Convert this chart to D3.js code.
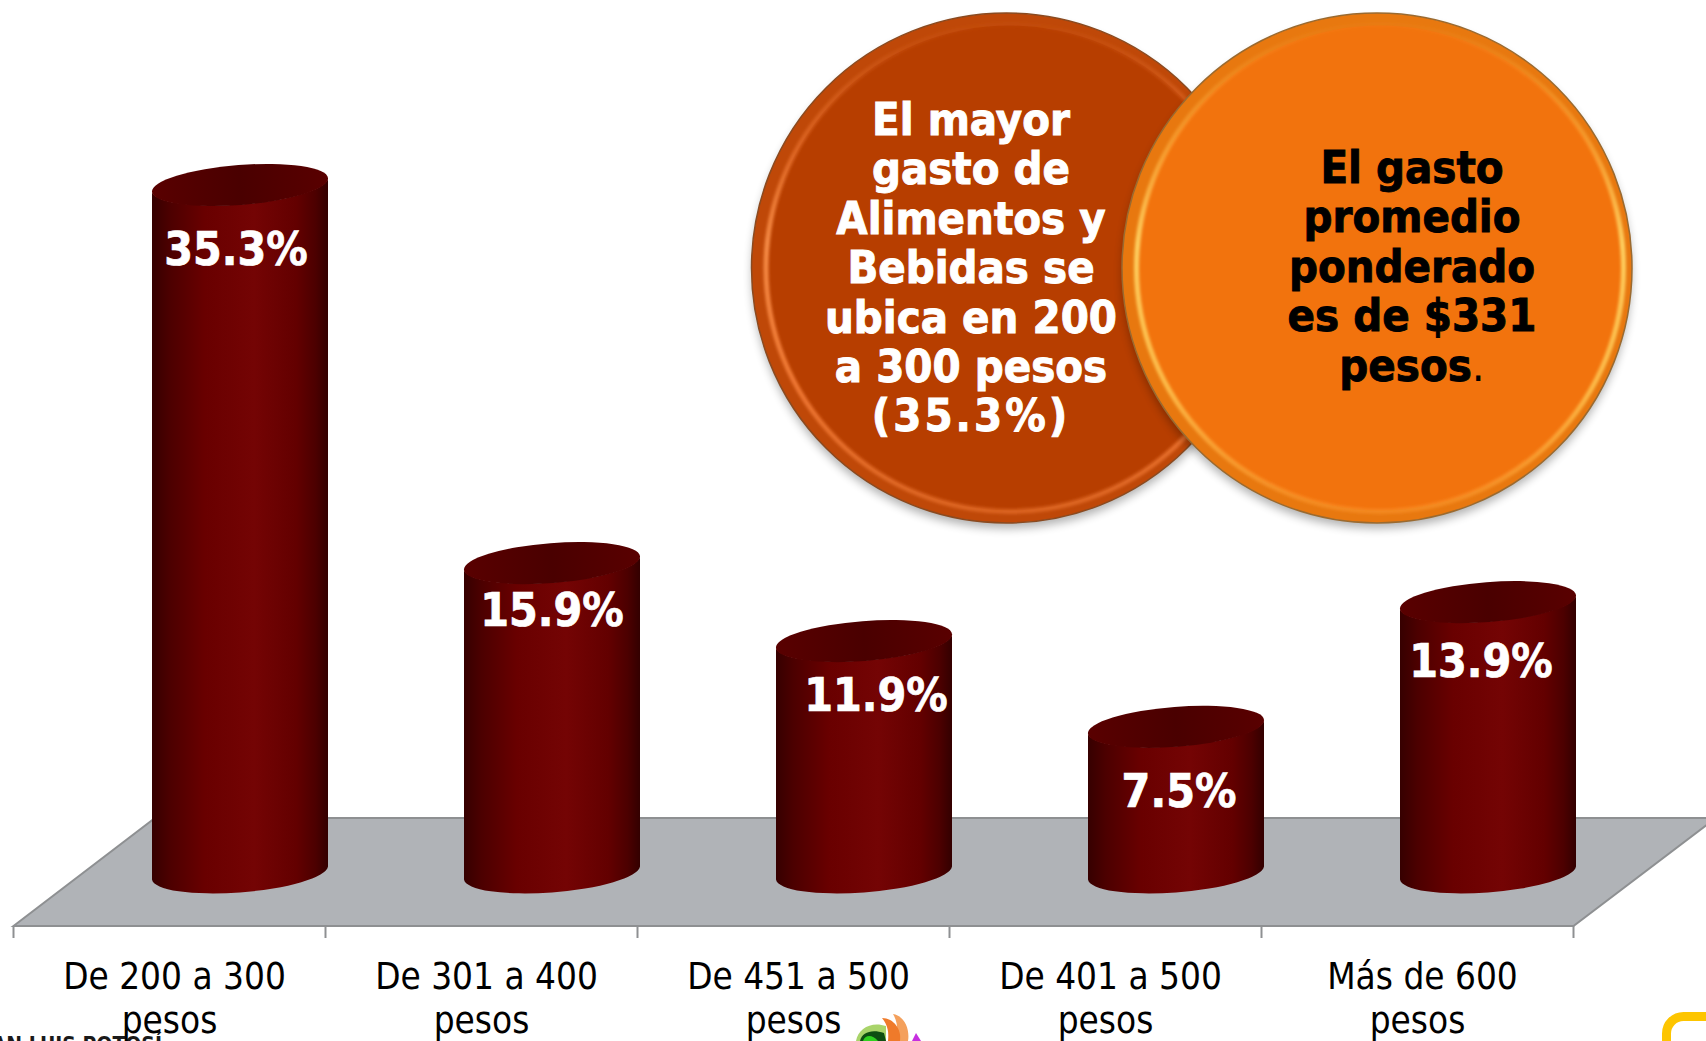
<!DOCTYPE html>
<html>
<head>
<meta charset="utf-8">
<script src="https://cdnjs.cloudflare.com/ajax/libs/d3/7.8.5/d3.min.js"></script>
<style>
  html, body { margin: 0; padding: 0; background: #fff; overflow: hidden; }
  svg { display: block; }
  text { font-family: "DejaVu Sans Condensed", "DejaVu Sans", sans-serif; }
</style>
</head>
<body>
<svg id="chart" width="1706" height="1041"></svg>
<script>
// data
const categories = ['De 200 a 300|pesos', 'De 301 a 400|pesos', 'De 451 a 500|pesos', 'De 401 a 500|pesos', 'Más de 600|pesos'];
const shares = [35.3, 15.9, 11.9, 7.5, 13.9];
const leftNote = ['El mayor', 'gasto de', 'Alimentos y', 'Bebidas se', 'ubica en 200', 'a 300 pesos', '(35.3%)'];
const rightNote = ['El gasto', 'promedio', 'ponderado', 'es de $331', 'pesos'];
const footerText = 'SAN LUIS POTOSÍ';

// hand-placed data labels in the slide, relative to the top of each cylinder
const labelNudgeX = [-4, 0, 12, 3, -7];
const labelNudgeY = [80, 63, 70, 80, 75];

const svg = d3.select('#chart');
const defs = svg.append('defs');

const x = d3.scaleBand().domain(categories).range([13.5, 1573.5]);
const y = d3.scaleLinear().domain([0, 40]).range([873, 93.4]);

const depthX = 70.5;   // 3d offset of the cylinders from the axis slot
const barRx = 88;
const ellA = 88.3, ellB = 20, ellTilt = -4.45;

function gradient(id, stops, attrs) {
    const g = defs.append('linearGradient').attr('id', id);
    Object.entries(attrs || {}).forEach(([k, v]) => g.attr(k, v));
    stops.forEach(s => g.append('stop').attr('offset', s[0]).attr('stop-color', s[1]).attr('stop-opacity', s[2] === undefined ? 1 : s[2]));
}

gradient('barSide', [[0, '#360000'], [0.1, '#4c0000'], [0.3, '#690000'], [0.58, '#740404'], [0.82, '#630000'], [0.93, '#4c0000'], [1, '#330000']]);
gradient('barTop', [[0, '#590000'], [0.5, '#4a0000'], [1, '#590000']]);
// bevel highlight is strong on the sides of the discs and fades at the top
gradient('leftShine', [[0, '#f27a35', 0.05], [0.25, '#f27a35', 0.55], [0.45, '#f58a45', 1], [0.75, '#f27a35', 0.9], [1, '#f27a35', 0.55]],
    { x1: 0, y1: 0, x2: 0, y2: 1 });
gradient('rightShine', [[0, '#ffb040', 0.05], [0.25, '#ffb040', 0.6], [0.45, '#ffd060', 1], [0.75, '#ffc04d', 0.9], [1, '#ff9a30', 0.5]],
    { x1: 0, y1: 0, x2: 0, y2: 1 });

const soft = (id, dev) => defs.append('filter').attr('id', id)
    .attr('x', '-10%').attr('y', '-10%').attr('width', '120%').attr('height', '120%')
    .append('feGaussianBlur').attr('stdDeviation', dev);
soft('soft', 5);
soft('glow', 1.6);

// floor
const floorY0 = 926, floorY1 = 818;
const floor = d3.path();
floor.moveTo(13.5, floorY0);
floor.lineTo(155, floorY1);
floor.lineTo(1716, floorY1);
floor.lineTo(1573.5, floorY0);
floor.closePath();
svg.append('path').attr('d', floor.toString())
    .attr('fill', '#b0b3b7').attr('stroke', '#8e9092').attr('stroke-width', 2);

// bits of the slide footer that stick into the picture
svg.append('text').attr('x', 162).attr('y', 1052).attr('text-anchor', 'end')
    .attr('font-size', 21).attr('font-weight', 700).attr('fill', '#1a1a1a').text(footerText);

svg.append('rect').attr('x', 1666.5).attr('y', 1016.5).attr('width', 90).attr('height', 90).attr('rx', 17)
    .attr('fill', 'none').attr('stroke', '#fdc500').attr('stroke-width', 9);

const logo = svg.append('g');
logo.append('path').attr('d', 'M856,1041 C858,1028 872,1021 886,1026 L886,1041 Z').attr('fill', '#a9d46a');
logo.append('path').attr('d', 'M860,1041 C862,1032 872,1029 884,1033 L886,1041 Z').attr('fill', '#0e4f12');
logo.append('path').attr('d', 'M863,1041 C865,1035 872,1034 878,1041 Z').attr('fill', '#2fd11f');
logo.append('path').attr('d', 'M893,1014 C905,1016 910,1030 908,1041 L896,1041 C898,1032 898,1022 893,1014 Z').attr('fill', '#f4a05c');
logo.append('path').attr('d', 'M882,1018 C894,1018 902,1030 900,1041 L888,1041 C889,1033 888,1025 882,1018 Z').attr('fill', '#ef7a2a');
logo.append('path').attr('d', 'M916,1033 L921,1041 L912,1041 Z').attr('fill', '#c62fe0');

// category axis
const axis = svg.append('g');
const tickXs = categories.map(c => x(c)).concat([x.range()[1]]);
axis.selectAll('line').data(tickXs).join('line')
    .attr('x1', d => d).attr('x2', d => d)
    .attr('y1', floorY0).attr('y2', floorY0 + 12)
    .attr('stroke', '#8e9092').attr('stroke-width', 2);

const labels = axis.selectAll('g.cat').data(categories).join('g').attr('class', 'cat');
labels.append('text')
    .attr('x', d => x(d) + x.bandwidth() / 2 + 5)
    .attr('y', 989).attr('text-anchor', 'middle')
    .attr('font-size', 36.6).attr('fill', '#000')
    .text(d => d.split('|')[0]);
labels.append('text')
    .attr('x', d => x(d) + x.bandwidth() / 2)
    .attr('y', 1033).attr('text-anchor', 'middle')
    .attr('font-size', 36.6).attr('fill', '#000')
    .text(d => d.split('|')[1]);

// cylinders
function cylinderSide(cx, topY) {
    const dy = 6.5;
    return `M${cx - barRx},${topY + dy} L${cx - barRx},${y(0) + dy} `
        + `A${ellA},${ellB} ${ellTilt} 0 0 ${cx + barRx},${y(0) - dy} `
        + `L${cx + barRx},${topY - dy} `
        + `A${ellA},${ellB} ${ellTilt} 0 1 ${cx - barRx},${topY + dy} Z`;
}

const bars = svg.append('g').selectAll('g').data(shares).join('g');
bars.append('path')
    .attr('d', (d, i) => cylinderSide(x(categories[i]) + x.bandwidth() / 2 + depthX, y(d)))
    .attr('fill', 'url(#barSide)');
bars.append('ellipse')
    .attr('rx', ellA).attr('ry', ellB)
    .attr('transform', (d, i) => `translate(${x(categories[i]) + x.bandwidth() / 2 + depthX},${y(d)}) rotate(${ellTilt})`)
    .attr('fill', 'url(#barTop)');
bars.append('text')
    .attr('x', (d, i) => x(categories[i]) + x.bandwidth() / 2 + depthX + labelNudgeX[i])
    .attr('y', (d, i) => y(d) + labelNudgeY[i])
    .attr('text-anchor', 'middle').attr('font-size', 46).attr('font-weight', 700)
    .attr('fill', '#fff').attr('stroke', '#fff').attr('stroke-width', 0.7)
    .text(d => d3.format('.1f')(d) + '%');

// note circles
function disc(id, cx, cy, r, colors) {
    const g = svg.append('g');
    g.append('circle').attr('cx', cx).attr('cy', cy + 6).attr('r', r - 1)
        .attr('fill', '#000').attr('opacity', 0.3).attr('filter', 'url(#soft)');
    g.append('circle').attr('cx', cx).attr('cy', cy).attr('r', r - 0.5)
        .attr('fill', colors.band).attr('stroke', colors.edge).attr('stroke-width', 1.5);
    g.append('circle').attr('cx', cx + 3).attr('cy', cy).attr('r', r - 13)
        .attr('fill', colors.face);
    g.append('circle').attr('cx', cx + 3).attr('cy', cy).attr('r', r - 12)
        .attr('fill', 'none').attr('stroke', `url(#${id}Shine)`).attr('stroke-width', 5)
        .attr('filter', 'url(#glow)');
    return g;
}

const leftDisc = disc('left', 1006.5, 268, 255.5, { face: '#b73e00', band: '#bf4808', edge: '#8a4a20' });
leftDisc.append('text').selectAll('tspan').data(leftNote).join('tspan')
    .attr('x', 971).attr('y', (d, i) => 135 + i * 49.4)
    .attr('text-anchor', 'middle').attr('font-size', 45).attr('font-weight', 700)
    .attr('letter-spacing', d => d.startsWith('(') ? 3 : 0)
    .attr('fill', '#fff').attr('stroke', '#fff').attr('stroke-width', 0.9)
    .text(d => d);

const rightDisc = disc('right', 1377, 268, 255.5, { face: '#f2730d', band: '#e8780f', edge: '#9a6a30' });
const rightText = rightDisc.append('text');
rightText.selectAll('tspan').data(rightNote).join('tspan')
    .attr('x', 1412).attr('y', (d, i) => 183 + i * 49.4)
    .attr('text-anchor', 'middle').attr('font-size', 45).attr('font-weight', 700)
    .attr('fill', '#000').attr('stroke', '#000').attr('stroke-width', 0.9)
    .text(d => d);
rightText.append('tspan').attr('font-size', 45).attr('fill', '#000').text('.');
</script>
</body>
</html>
